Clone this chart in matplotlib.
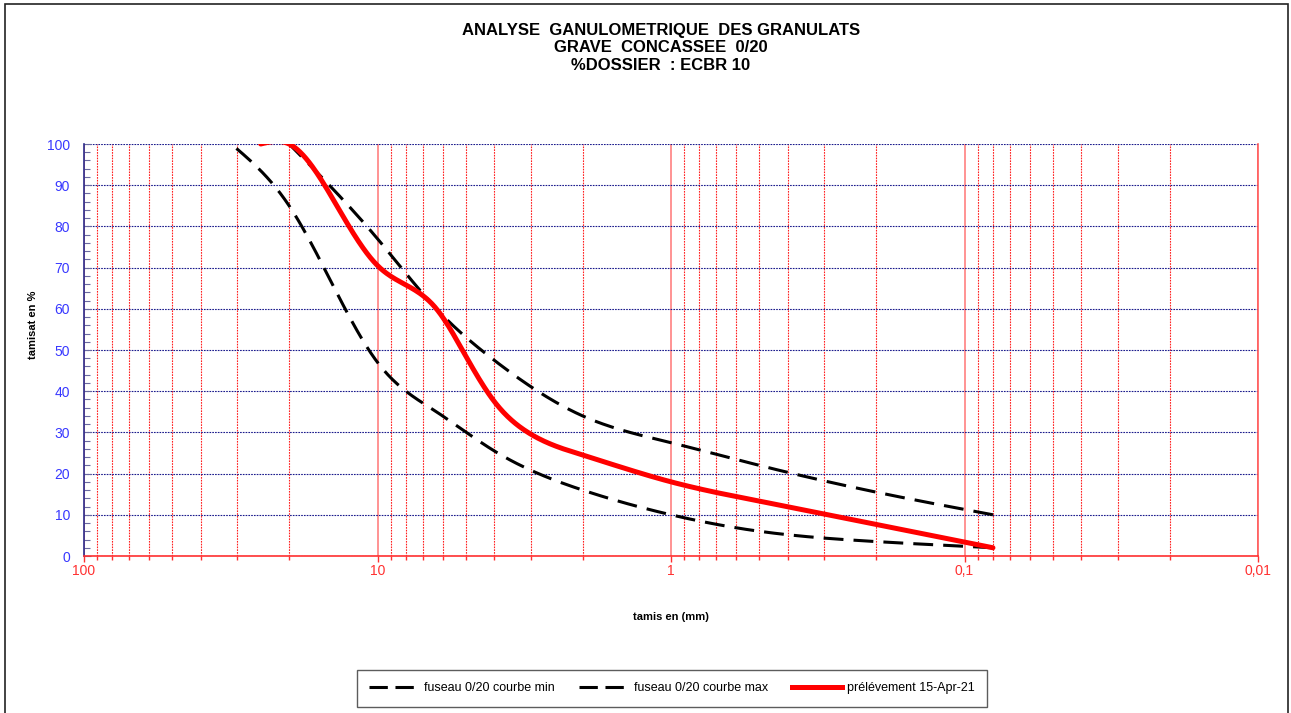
import numpy as np
import matplotlib
matplotlib.use("Agg")
import matplotlib.pyplot as plt
import matplotlib.ticker as ticker
from matplotlib.lines import Line2D
from matplotlib.patches import Rectangle

plt.rcParams.update({
    "font.family": "sans-serif",
    "font.sans-serif": ["Liberation Sans", "DejaVu Sans"],
})

# fuseau 0/20 (min / max) and sample passing percentages
min_tamis = [31.5, 20, 10, 6.3, 4, 2, 1, 0.5, 0.2, 0.08]
min_pct = [100, 85, 47, 35, 25.5, 16, 10, 6, 3.5, 2]

max_tamis = [20, 10, 6.3, 4, 2, 1, 0.5, 0.2, 0.08]
max_pct = [100, 77, 60, 47.5, 34, 27.5, 22, 15.5, 10]

ech_tamis = [25, 20, 12.5, 10, 6.3, 5, 4, 3.15, 2, 1, 0.5, 0.08]
ech_pct = [100, 100, 80, 70.5, 60, 48.5, 37.5, 30.5, 24.5, 18, 13.3, 2]

x_labels = {100: "100", 10: "10", 1: "1", 0.1: "0,1", 0.01: "0,01"}


def smooth(xs, ys, n=40):
    # natural cubic spline of y against log10(x)
    u = np.log10(np.asarray(xs, float))[::-1]
    y = np.asarray(ys, float)[::-1]
    k = len(u)
    h = np.diff(u)
    A = np.zeros((k, k))
    r = np.zeros(k)
    A[0, 0] = A[-1, -1] = 1
    for i in range(1, k - 1):
        A[i, i - 1] = h[i - 1]
        A[i, i] = 2 * (h[i - 1] + h[i])
        A[i, i + 1] = h[i]
        r[i] = 6 * ((y[i + 1] - y[i]) / h[i] - (y[i] - y[i - 1]) / h[i - 1])
    M = np.linalg.solve(A, r)
    uu, yy = [], []
    for i in range(k - 1):
        t = np.linspace(u[i], u[i + 1], n)
        a = (u[i + 1] - t) / h[i]
        b = (t - u[i]) / h[i]
        seg = (a * y[i] + b * y[i + 1]
               + ((a**3 - a) * M[i] + (b**3 - b) * M[i + 1]) * h[i] ** 2 / 6)
        s = 0 if i == 0 else 1
        uu.append(t[s:])
        yy.append(seg[s:])
    return 10 ** np.concatenate(uu), np.concatenate(yy)


fig = plt.figure(figsize=(12.91, 7.13), dpi=100)
ax = fig.add_axes([84 / 1291, 1 - 556 / 713, (1258 - 84) / 1291, (556 - 144) / 713])

ax.set_xscale("log")
ax.set_xlim(100, 0.01)
ax.set_ylim(0, 100)

ax.xaxis.set_major_locator(ticker.LogLocator(base=10, numticks=10))
ax.xaxis.set_minor_locator(ticker.LogLocator(base=10, subs=np.arange(2, 10), numticks=20))
ax.xaxis.set_major_formatter(ticker.FuncFormatter(
    lambda v, pos: x_labels.get(round(v, 4), "")))
ax.xaxis.set_minor_formatter(ticker.NullFormatter())
ax.yaxis.set_major_locator(ticker.MultipleLocator(10))
ax.yaxis.set_minor_locator(ticker.MultipleLocator(2))

ax.grid(which="major", axis="x", color="#ff8a8a", linestyle="-", linewidth=1.3)
ax.grid(which="minor", axis="x", color="#ff2020", linestyle=(0, (1.5, 1)), linewidth=0.8)
ax.grid(which="major", axis="y", color="#1a1a8c", linestyle=(0, (1.5, 1)), linewidth=0.8)
ax.set_axisbelow(True)

ax.tick_params(axis="x", which="both", colors="#ff3030", direction="out",
               labelsize=10, width=1)
ax.tick_params(axis="x", which="major", length=4, pad=2)
ax.tick_params(axis="x", which="minor", length=3)
ax.tick_params(axis="y", which="both", direction="in", colors="#6a6aa0",
               labelcolor="#3838ff", labelsize=10, width=0.8)
ax.tick_params(axis="y", which="major", length=5, pad=10)
ax.tick_params(axis="y", which="minor", length=4)

ax.spines["top"].set_visible(False)
ax.spines["left"].set_color("#2a2a8a")
ax.spines["bottom"].set_color("#ff3030")
ax.spines["right"].set_color("#ff5a5a")
for s in ("left", "bottom", "right"):
    ax.spines[s].set_linewidth(1.2)

dash = (0, (6.5, 3.3))
x1, y1 = smooth(min_tamis, min_pct)
ax.plot(x1, y1, color="black", lw=2.2, linestyle=dash, zorder=3)
x2, y2 = smooth(max_tamis, max_pct)
ax.plot(x2, y2, color="black", lw=2.2, linestyle=dash, zorder=3)
x3, y3 = smooth(ech_tamis, ech_pct)
ax.plot(x3, y3, color="#ff0000", lw=3.6, solid_capstyle="round", zorder=4)

# titles and axis labels
for txt, yp in [("ANALYSE  GANULOMETRIQUE  DES GRANULATS", 30),
                ("GRAVE  CONCASSEE  0/20", 47),
                ("%DOSSIER  : ECBR 10", 65)]:
    fig.text(661 / 1291, 1 - yp / 713, txt, ha="center", va="center",
             fontsize=12, fontweight="bold")
fig.text(33 / 1291, 1 - 325 / 713, "tamisat en %", rotation=90, ha="center",
         va="center", fontsize=8, fontweight="bold")
fig.text(671 / 1291, 1 - 617 / 713, "tamis en (mm)", ha="center", va="center",
         fontsize=8, fontweight="bold")

handles = [
    Line2D([], [], color="black", lw=2.2, linestyle=(0, (6, 2.5))),
    Line2D([], [], color="black", lw=2.2, linestyle=(0, (6, 2.5))),
    Line2D([], [], color="#ff0000", lw=3.6),
]
leg = fig.legend(handles,
                 ["fuseau 0/20 courbe min", "fuseau 0/20 courbe max",
                  "prélévement 15-Apr-21"],
                 loc="center", bbox_to_anchor=(672 / 1291, 1 - 688 / 713),
                 ncol=3, fontsize=9, frameon=True, fancybox=False,
                 edgecolor="#333333", handlelength=4.0, handletextpad=0.4,
                 columnspacing=1.9, borderpad=1.0)
leg.get_frame().set_linewidth(1.0)

# outer chart frame
fig.add_artist(Rectangle((5 / 1291, -0.02), (1288 - 5) / 1291, 1 - 4 / 713 + 0.02,
                         transform=fig.transFigure, fill=False,
                         edgecolor="#222222", linewidth=1.2))

fig.savefig("out.png", dpi=100)
